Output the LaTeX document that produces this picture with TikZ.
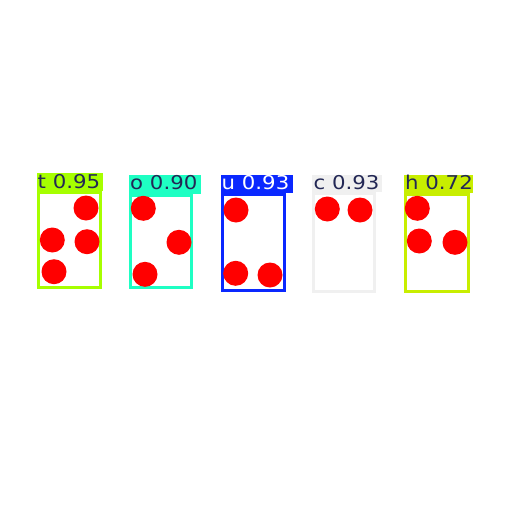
\documentclass[tikz,border=0pt]{standalone}
\usepackage{fontspec}
\setmainfont{DejaVu Sans}
\definecolor{tcol}{RGB}{166,255,0}
\definecolor{ocol}{RGB}{30,255,195}
\definecolor{ucol}{RGB}{10,40,255}
\definecolor{ccol}{RGB}{240,240,240}
\definecolor{hcol}{RGB}{200,238,0}
\definecolor{tagtext}{RGB}{35,40,85}

\begin{document}
\begin{tikzpicture}[x=1pt,y=-1pt,
	box/.style={line width=3pt},
	dot/.style={circle,fill=red,minimum size=25pt,inner sep=0pt},
	tag/.style={anchor=base west,inner sep=0pt,text=tagtext,font=\fontsize{19}{19}\selectfont}]
		\useasboundingbox[fill=white] (0,0) rectangle (512,512);
		% t
		\fill[tcol] (37,173) rectangle (103,191);
		\draw[box,tcol] (38.2,192.5) rectangle (100.2,287.5);
		\node[tag] (tlab) at (37.5,188.5) {\scalebox{1.12}[1]{t 0.95}};
		\node[dot] (t1) at (86,208) {};
		\node[dot] (t2) at (52.3,240) {};
		\node[dot] (t3) at (87,241.7) {};
		\node[dot] (t4) at (54,271.7) {};
		% o
		\fill[ocol] (129,175) rectangle (201,194);
		\draw[box,ocol] (130.5,195.8) rectangle (191.8,287.5);
		\node[tag] (olab) at (130,189.8) {\scalebox{1.12}[1]{o 0.90}};
		\node[dot] (o1) at (143.3,208.3) {};
		\node[dot] (o2) at (179,242.3) {};
		\node[dot] (o3) at (145,274.3) {};
		% u
		\fill[ucol] (221,175) rectangle (292.7,193);
		\draw[box,ucol] (222.5,194.5) rectangle (284.5,290.2);
		\node[tag,text=white] (ulab) at (221.5,189.8) {\scalebox{1.12}[1]{u 0.93}};
		\node[dot] (u1) at (236,210) {};
		\node[dot] (u2) at (235.7,273.3) {};
		\node[dot] (u3) at (270,275) {};
		% c
		\fill[ccol] (311.7,175) rectangle (381.7,191.7);
		\draw[box,ccol] (313.2,193.2) rectangle (374.5,291.2);
		\node[tag] (clab) at (313.5,189.5) {\scalebox{1.12}[1]{c 0.93}};
		\node[dot] (c1) at (327.3,209) {};
		\node[dot] (c2) at (360,210) {};
		% h
		\fill[hcol] (404,175) rectangle (473.3,193.3);
		\draw[box,hcol] (405.5,194.8) rectangle (468.5,291.2);
		\node[tag] (hlab) at (405,189.8) {\scalebox{1.12}[1]{h 0.72}};
		\node[dot] (h1) at (417.3,208.3) {};
		\node[dot] (h2) at (419.3,241) {};
		\node[dot] (h3) at (455,242.3) {};
	\end{tikzpicture}
\end{document}
